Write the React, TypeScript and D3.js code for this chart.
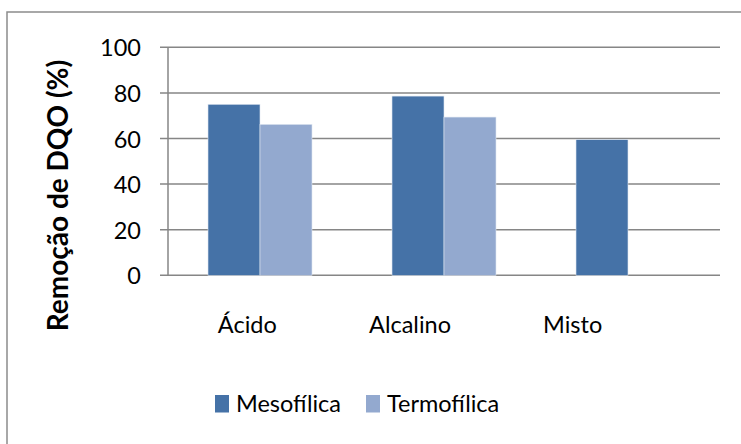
import React from "react";
import * as d3 from "d3";

// Remoção de DQO (%) por tipo de pré-tratamento e faixa de temperatura
const categories = ["Ácido", "Alcalino", "Misto"];
const seriesNames = ["Mesofílica", "Termofílica"];
const mesofilica = [75, 78.6, 59.5];
const termofilica: (number | null)[] = [66.2, 69.4, null];
const yTicks = [0, 20, 40, 60, 80, 100];

const colors = ["#4572A7", "#93A9CF"];

const W = 741;
const H = 444;
const FONT = "Lato, 'Open Sans', sans-serif";

export default function App() {
  const plot = { left: 168, right: 720, top: 47.3, bottom: 275.3 };

  const x = d3
    .scaleBand<string>()
    .domain(categories)
    .range([plot.left, plot.right])
    .paddingInner(0)
    .paddingOuter(0);
  // bars occupy the middle of each band
  const inner = d3
    .scaleBand<string>()
    .domain(seriesNames)
    .range([0, x.bandwidth()])
    .paddingOuter(0.7692)
    .paddingInner(0);

  // category labels sit on their own band range
  const xLabel = d3
    .scaleBand<string>()
    .domain(categories)
    .range([166, 654]);

  const y = d3.scaleLinear().domain([0, 100]).range([plot.bottom, plot.top]);

  const rows = categories.map((c, i) => ({
    cat: c,
    values: [mesofilica[i], termofilica[i]],
  }));

  return (
    <svg
      width={W}
      height={H}
      style={{ position: "absolute", left: 0, top: 0, background: "#fff" }}
      fontFamily={FONT}
    >
      {/* chart frame */}
      <rect x={7} y={12} width={W + 20} height={H + 20} fill="#fff" stroke="#8c8c8c" strokeWidth={1.5} />

      {/* gridlines and ticks */}
      {yTicks.map((t) => (
        <g key={t}>
          <line
            x1={plot.left - 8}
            x2={plot.right}
            y1={y(t)}
            y2={y(t)}
            stroke="#868686"
            strokeWidth={1.5}
          />
          <text
            x={141}
            y={y(t)}
            textAnchor="end"
            dominantBaseline="central"
            fontSize={23.5}
            fill="#000"
          >
            {t}
          </text>
        </g>
      ))}
      <line x1={plot.left} x2={plot.left} y1={plot.top} y2={plot.bottom} stroke="#868686" strokeWidth={1.5} />

      {/* bars */}
      {rows.map((r) => (
        <g key={r.cat} transform={`translate(${x(r.cat)},0)`}>
          {r.values.map((v, j) =>
            v == null ? null : (
              <rect
                key={seriesNames[j]}
                x={inner(seriesNames[j])}
                y={y(v)}
                width={inner.bandwidth()}
                height={y(0) - y(v)}
                fill={colors[j]}
                stroke="#dfe6f0"
                strokeWidth={0.6}
              />
            )
          )}
        </g>
      ))}

      {/* category labels */}
      {categories.map((c) => (
        <text
          key={c}
          x={(xLabel(c) as number) + xLabel.bandwidth() / 2}
          y={333}
          textAnchor="middle"
          fontSize={23.5}
          fill="#000"
        >
          {c}
        </text>
      ))}

      {/* y axis title */}
      <text
        transform={`translate(68,${195.5}) rotate(-90)`}
        textAnchor="middle"
        fontSize={28}
        fontWeight="bold"
        fill="#000"
      >
        Remoção de DQO (%)
      </text>

      {/* legend */}
      {seriesNames.map((s, i) => {
        const lx = [215, 366][i];
        return (
          <g key={s}>
            <rect x={lx} y={395} width={14} height={17.5} fill={colors[i]} />
            <text x={lx + 21} y={411.5} fontSize={23.5} fill="#000">
              {s}
            </text>
          </g>
        );
      })}
    </svg>
  );
}
